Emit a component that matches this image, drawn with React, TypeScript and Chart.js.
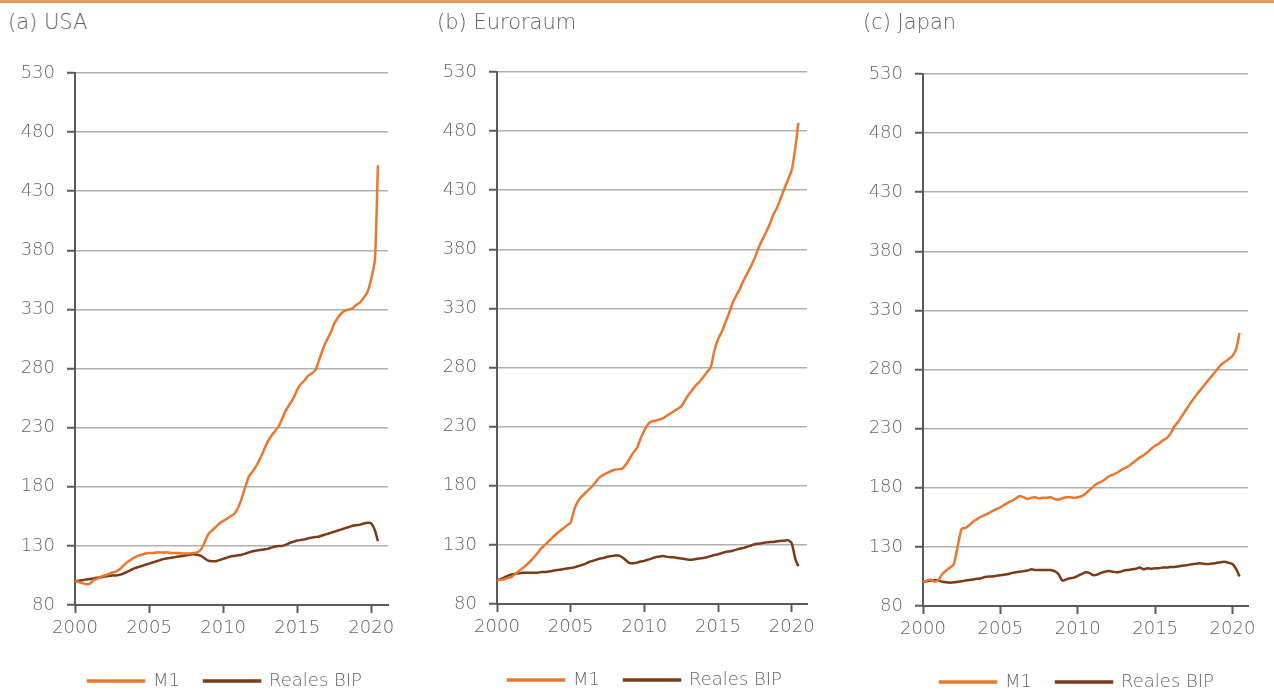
import React, { useEffect, useRef } from 'react';
import { Chart, registerables } from 'chart.js';

Chart.register(...registerables);

// ---------- DATA ----------
const years = [
  2000, 2000.25, 2000.5, 2000.75, 2001, 2001.25, 2001.5, 2001.75,
  2002, 2002.25, 2002.5, 2002.75, 2003, 2003.25, 2003.5, 2003.75,
  2004, 2004.25, 2004.5, 2004.75, 2005, 2005.25, 2005.5, 2005.75,
  2006, 2006.25, 2006.5, 2006.75, 2007, 2007.25, 2007.5, 2007.75,
  2008, 2008.25, 2008.5, 2008.75, 2009, 2009.25, 2009.5, 2009.75,
  2010, 2010.25, 2010.5, 2010.75, 2011, 2011.25, 2011.5, 2011.75,
  2012, 2012.25, 2012.5, 2012.75, 2013, 2013.25, 2013.5, 2013.75,
  2014, 2014.25, 2014.5, 2014.75, 2015, 2015.25, 2015.5, 2015.75,
  2016, 2016.25, 2016.5, 2016.75, 2017, 2017.25, 2017.5, 2017.75,
  2018, 2018.25, 2018.5, 2018.75, 2019, 2019.25, 2019.5, 2019.75,
  2020, 2020.25, 2020.45,
];

const usaM1 = [
  100, 99.5, 98.5, 97.5, 98, 101, 102, 104,
  105, 106, 107.5, 108, 110, 113, 116, 118,
  120, 121.5, 122.5, 123.5, 124, 124, 124.5, 124.5,
  124.5, 124.5, 124, 124, 124, 123.5, 123.5, 123.5,
  124, 124.5, 127, 133, 140, 143, 146, 149,
  151, 153, 155, 157, 162, 170, 180, 189,
  193, 198, 204, 211, 218, 223, 227, 231,
  238, 245, 250, 255, 262, 267, 270, 274,
  276, 279, 288, 297, 304, 310, 318, 323,
  327, 329, 330, 331, 334, 336, 340, 345,
  356, 372, 452,
];

const usaBIP = [
  100, 100.5, 101, 101.5, 102, 102.5, 103, 103.5,
  104, 104.5, 105, 105, 105.5, 106.5, 108, 109.5,
  111, 112, 113, 114, 115, 116, 117, 118,
  119, 119.5, 120, 120.5, 121, 121.5, 122, 122.5,
  123, 122.5, 121.5, 119.5, 117.5, 117, 117, 118,
  119, 120, 121, 121.5, 122, 122.5, 123.5, 124.5,
  125.5, 126, 126.5, 127, 127.5, 128.5, 129.5, 130,
  130, 131, 132.5, 133.5, 134.5, 135, 135.5, 136.5,
  137, 137.5, 138, 139, 140, 141, 142, 143,
  144, 145, 146, 147, 147.5, 148, 149, 149.5,
  149, 143, 134,
];

const euroM1 = [
  100, 100.5, 101, 102, 103, 105.5, 108, 110.5,
  113, 116, 119.5, 123, 127, 130, 133, 136,
  139, 141.5, 144, 146.5, 149, 160, 167, 171,
  174, 177, 180, 184, 187.5, 189.5, 191, 192.5,
  193.5, 194, 194.5, 198, 203, 208, 212, 220,
  227, 232, 234.5, 235, 236, 237, 239, 241,
  243, 245, 247, 252, 257, 261, 265, 268,
  272, 276, 280, 294, 304, 310, 318, 326,
  335, 341, 347, 354, 360, 366, 373, 381,
  388, 394, 401, 409, 415, 423, 431, 439,
  447, 466, 487,
];

const euroBIP = [
  100, 101, 102.5, 104, 105, 105.5, 106, 106.5,
  106.5, 106.5, 106.5, 106.5, 107, 107, 107.5, 108,
  108.5, 109, 109.5, 110, 110.5, 111, 112, 113,
  114, 115.5, 116.5, 117.5, 118.5, 119, 120, 120.5,
  121, 121, 119.5, 117, 114.5, 114.5, 115, 116,
  116.5, 117.5, 118.5, 119.5, 120, 120.5, 120, 119.5,
  119.5, 119, 118.5, 118, 117.5, 117.5, 118, 118.5,
  119, 119.5, 120.5, 121.5, 122, 123, 124, 124.5,
  125, 126, 127, 127.5, 128.5, 129.5, 130.5, 131,
  131.5, 132, 132.5, 132.5, 133, 133.5, 133.5, 134,
  131.5, 118, 112,
];

const japanM1 = [
  100, 101.5, 102.5, 100.5, 102, 107, 110, 112.5,
  115.5, 131, 145.5, 146, 148.5, 151.5, 153.5, 155.5,
  157, 158.5, 160.5, 162, 163.5, 165.5, 167.5, 169,
  171, 173, 172, 170.5, 171.5, 172, 171, 171.5,
  171.5, 172, 170.5, 170, 171, 172, 172, 171.5,
  172, 173, 175, 178, 181, 183.5, 185, 187,
  189.5, 191, 192.5, 194.5, 196.5, 198, 200.5, 203,
  205.5, 207.5, 210, 213, 215.5, 217.5, 220, 222,
  226, 232, 236, 241, 246, 251, 255.5, 260,
  264, 268, 272, 276, 280, 284, 286.5, 289,
  291.5, 298, 311,
];

const japanBIP = [
  100, 101, 101.5, 102, 101.5, 100.5, 100, 99.7,
  100, 100.5, 101, 101.5, 102, 102.5, 103, 103.5,
  104.5, 105, 105, 105.5, 106, 106.5, 107, 108,
  108.5, 109, 109.5, 110, 111, 110.5, 110.5, 110.5,
  110.5, 110.5, 109.5, 107, 101.5, 102.5, 103.5, 104,
  105.5, 107, 108.5, 108, 106, 106.5, 108, 109,
  109.5, 109, 108.5, 109, 110, 110.5, 111, 111.5,
  112.5, 111, 112, 111.5, 112, 112, 112.5, 112.5,
  113, 113, 113.5, 114, 114.5, 115, 115.5, 116,
  116, 115.5, 115.5, 116, 116.5, 117, 117.5, 116.5,
  115.5, 111, 105,
];

const xTickValues = [2000, 2005, 2010, 2015, 2020];
const yMin = 80;
const yMax = 530;
const yStep = 50;
const seriesNames = ['M1', 'Reales BIP'];
const panelTitles = ['(a) USA', '(b) Euroraum', '(c) Japan'];

// ---------- STYLE ----------
const FONT = '"DejaVu Sans", sans-serif';
const M1_COLOR = '#E8782F';
const BIP_COLOR = '#7B3A18';
const TEXT_COLOR = '#636363';
const AXIS_COLOR = '#5a5a5a';
const GRID_COLOR = '#b0b0b0';

interface PanelProps {
  title: string;
  m1: number[];
  bip: number[];
  left: number;
  top: number;
  width: number;
  height: number;
  axisWidth: number;
  padRight: number;
  xMax: number;
  titleLeft: number;
  legendCenter: number;
}

function toPoints(vals: number[]) {
  return vals.map((v, i) => ({ x: years[i], y: v }));
}

function Panel(p: PanelProps) {
  const ref = useRef<HTMLCanvasElement | null>(null);
  useEffect(() => {
    if (!ref.current) return;
    const legendShift = {
      id: 'legendShift',
      afterLayout(chart: any) {
        const lg = chart.legend;
        if (!lg) return;
        const w = lg.right - lg.left;
        lg.left = p.legendCenter - w / 2;
        lg.right = p.legendCenter + w / 2;
      },
    };
    const chart = new Chart(ref.current, {
      type: 'line',
      data: {
        datasets: [
          {
            label: seriesNames[0],
            data: toPoints(p.m1),
            borderColor: M1_COLOR,
            backgroundColor: M1_COLOR,
            borderWidth: 2.5,
            pointRadius: 0,
            tension: 0.2,
          },
          {
            label: seriesNames[1],
            data: toPoints(p.bip),
            borderColor: BIP_COLOR,
            backgroundColor: BIP_COLOR,
            borderWidth: 2.5,
            pointRadius: 0,
            tension: 0.2,
          },
        ],
      },
      plugins: [legendShift],
      options: {
        responsive: false,
        animation: false,
        devicePixelRatio: 1,
        layout: { padding: { left: 0, right: p.padRight, top: 73, bottom: 0 } },
        plugins: {
          title: { display: false },
          tooltip: { enabled: false },
          legend: {
            display: true,
            position: 'bottom',
            labels: {
              boxWidth: 56,
              boxHeight: 1,
              padding: 24,
              color: TEXT_COLOR,
              font: { family: FONT, size: 18, weight: '200' as any },
            },
          },
        },
        scales: {
          x: {
            type: 'linear',
            min: 2000,
            max: p.xMax,
            afterBuildTicks: (scale: any) => {
              scale.ticks = xTickValues.map((v) => ({ value: v }));
            },
            afterFit: (scale: any) => {
              scale.height = 43;
            },
            ticks: {
              color: TEXT_COLOR,
              font: { family: FONT, size: 18, weight: '200' as any },
              padding: 5,
              maxRotation: 0,
              autoSkip: false,
              callback: (v: any) => String(v),
            },
            grid: {
              drawOnChartArea: false,
              drawTicks: true,
              tickLength: 8,
              tickColor: AXIS_COLOR,
              tickWidth: 2,
            },
            border: { display: true, color: AXIS_COLOR, width: 2 },
          },
          y: {
            type: 'linear',
            min: yMin,
            max: yMax,
            afterFit: (scale: any) => {
              scale.width = p.axisWidth;
            },
            ticks: {
              stepSize: yStep,
              color: TEXT_COLOR,
              font: { family: FONT, size: 18, weight: '200' as any },
              padding: 12,
              callback: (v: any) => String(v),
            },
            grid: {
              color: GRID_COLOR,
              lineWidth: 1.5,
              drawTicks: true,
              tickLength: 8,
              tickColor: AXIS_COLOR,
              tickWidth: 2,
            },
            border: { display: true, color: AXIS_COLOR, width: 2 },
          },
        },
      },
    });
    return () => chart.destroy();
  }, []);

  return (
    <>
      <div
        style={{
          position: 'absolute',
          left: p.titleLeft,
          top: 11,
          fontFamily: FONT,
          fontWeight: 200,
          fontSize: 21,
          lineHeight: '22px',
          color: TEXT_COLOR,
          whiteSpace: 'nowrap',
        }}
      >
        {p.title}
      </div>
      <canvas
        ref={ref}
        width={p.width}
        height={p.height}
        style={{ position: 'absolute', left: p.left, top: p.top, width: p.width, height: p.height }}
      />
    </>
  );
}

export default function App() {
  return (
    <div
      style={{
        position: 'fixed',
        left: 0,
        top: 0,
        width: 1274,
        height: 691,
        background: '#ffffff',
        overflow: 'hidden',
      }}
    >
      <div
        style={{
          position: 'absolute',
          left: 0,
          top: 0,
          width: 1274,
          height: 3,
          background: '#E39A5E',
        }}
      />
      <Panel title={panelTitles[0]} m1={usaM1} bip={usaBIP} left={0} top={0} width={450} height={700}
        axisWidth={75} padRight={62} xMax={2021.13} titleLeft={8} legendCenter={225} />
      <Panel title={panelTitles[1]} m1={euroM1} bip={euroBIP} left={425} top={-1} width={440} height={700}
        axisWidth={72} padRight={58} xMax={2021.04} titleLeft={437} legendCenter={220} />
      <Panel title={panelTitles[2]} m1={japanM1} bip={japanBIP} left={848} top={1} width={458} height={700}
        axisWidth={75} padRight={58} xMax={2021.0} titleLeft={863} legendCenter={229} />
    </div>
  );
}
